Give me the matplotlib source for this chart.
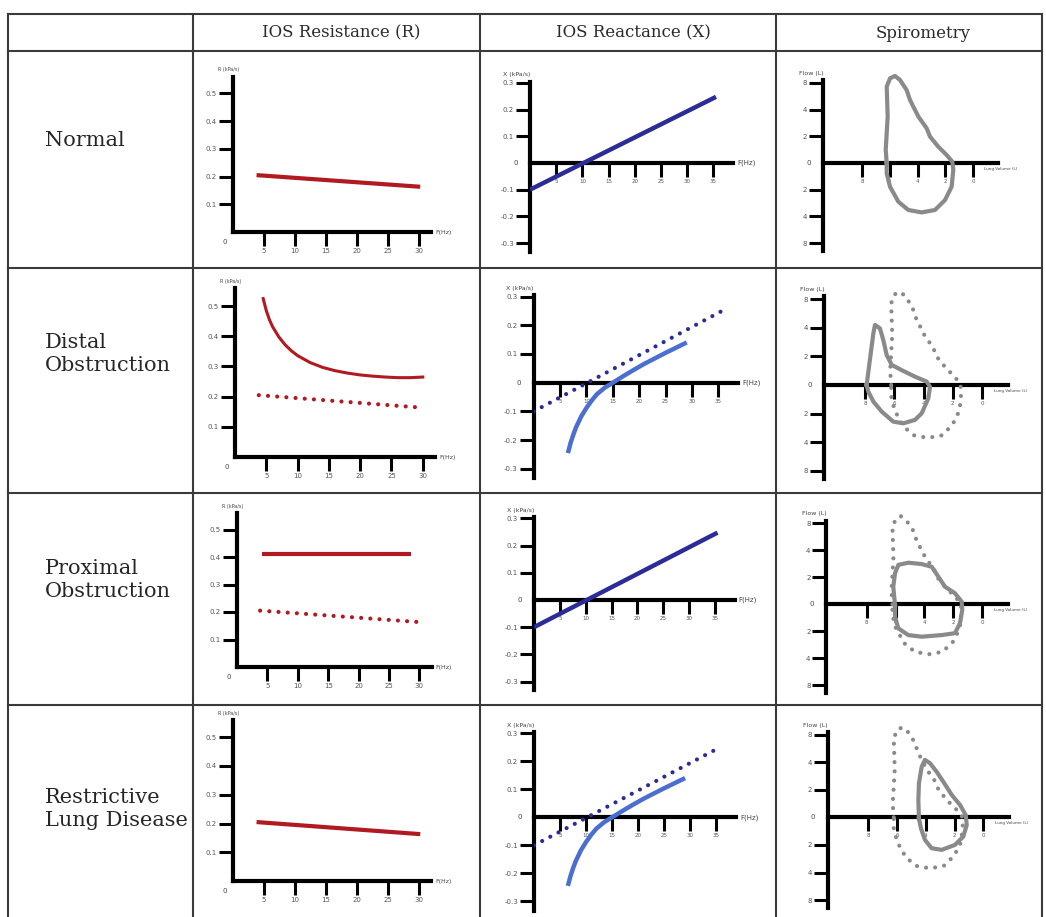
import matplotlib
matplotlib.use('Agg')
import matplotlib.pyplot as plt

W, H = 1046, 917

# ---- table text ----
col_titles = ['IOS Resistance (R)', 'IOS Reactance (X)', 'Spirometry']
row_labels = ['Normal', 'Distal\nObstruction', 'Proximal\nObstruction', 'Restrictive\nLung Disease']

# ---- resistance: frequency (Hz) vs R (kPa/s) ----
r_norm_f = [3.8, 30.2]
r_norm = [0.205, 0.163]
r_dist_f = [4.5, 5, 5.5, 6, 7, 8, 9, 10, 12, 14, 16, 18, 20, 22, 24, 26, 28, 30]
r_dist = [0.525, 0.485, 0.455, 0.432, 0.398, 0.372, 0.352, 0.336, 0.313, 0.297,
          0.286, 0.278, 0.272, 0.268, 0.265, 0.263, 0.263, 0.265]
r_prox_f = [4.1, 28.6]
r_prox = [0.41, 0.41]
r_ticks = [5, 10, 15, 20, 25, 30]
r_yticks = [0.1, 0.2, 0.3, 0.4, 0.5]

# ---- reactance: frequency (Hz) vs X (kPa/s) ----
x_norm_f = [0, 35.5]
x_norm = [-0.1, 0.248]
x_abn_f = [6.5, 7, 7.5, 8, 9, 10, 11, 12, 13.5, 15, 17, 19, 21, 25, 29]
x_abn = [-0.245, -0.21, -0.182, -0.157, -0.118, -0.088, -0.062, -0.04, -0.017,
         0.0, 0.023, 0.045, 0.066, 0.104, 0.14]
x_ticks = [5, 10, 15, 20, 25, 30, 35]
x_yticks = [-0.3, -0.2, -0.1, 0.1, 0.2, 0.3]

# ---- spirometry loops: lung volume (L) vs flow (tick positions) ----
s_yticks = [-3, -2, -1, 1, 2, 3]
s_ylabels = ['8', '4', '2', '2', '4', '8']
s_xticks = [8, 6, 4, 2, 0]
loop_norm_v = [6.22, 6.29, 6.15, 6.22, 5.98, 5.62, 5.26, 4.78, 4.54, 3.94, 3.34, 3.10, 2.50,
               1.90, 1.49, 1.42, 1.54, 2.02, 2.74, 3.70, 4.66, 5.38, 5.98, 6.22, 6.22]
loop_norm_q = [0, 0.49, 1.74, 2.86, 3.17, 3.26, 3.11, 2.73, 2.36, 1.74, 1.30, 0.99, 0.61,
               0.30, 0.05, -0.26, -0.89, -1.39, -1.76, -1.85, -1.76, -1.45, -0.89, -0.39, 0]
loop_dist_v = [7.9, 7.74, 7.56, 7.44, 7.33, 6.99, 6.76, 6.53, 6.18, 5.50, 4.59, 3.79, 3.56,
               3.68, 4.13, 4.59, 5.39, 6.08, 6.87, 7.44, 7.79, 7.9]
loop_dist_q = [0, 0.64, 1.34, 1.81, 2.10, 1.98, 1.57, 1.05, 0.70, 0.52, 0.29, 0.12, -0.06,
               -0.47, -0.99, -1.22, -1.34, -1.28, -0.93, -0.58, -0.23, 0]
loop_prox_v = [6.04, 6.16, 6.04, 5.81, 5.12, 4.19, 3.49, 3.03, 2.57, 1.88, 1.41, 1.37, 1.53,
               1.88, 2.80, 4.19, 5.12, 5.81, 6.04, 6.04]
loop_prox_q = [-0.03, 0.65, 1.15, 1.46, 1.54, 1.49, 1.39, 1.02, 0.65, 0.41, 0.10, -0.21, -0.70,
               -1.07, -1.14, -1.20, -1.14, -0.89, -0.46, -0.03]
loop_rest_v = [4.47, 4.51, 4.47, 4.28, 4.05, 3.70, 3.24, 2.78, 2.19, 1.62, 1.22, 1.15, 1.39,
               1.97, 2.89, 3.59, 4.05, 4.33, 4.47]
loop_rest_q = [-0.04, 0.63, 1.23, 1.83, 2.08, 1.96, 1.65, 1.29, 0.81, 0.45, 0.08, -0.28, -0.70,
               -1.00, -1.18, -1.12, -0.82, -0.40, -0.04]

RED = '#b01a20'
NAVY = '#2b2c96'
LBLUE = '#4a6fd0'
GREY = '#8a8a8a'
DOTS = (0, (0.01, 2.2))

fig = plt.figure(figsize=(W / 100, H / 100), dpi=100)

# background axes in pixel coords for the table
bg = fig.add_axes([0, 0, 1, 1])
bg.set_xlim(0, W)
bg.set_ylim(H, 0)
bg.axis('off')
for x in [8, 193, 480, 776, 1042]:
    bg.plot([x, x], [14, H], color='#3a3a3a', lw=1.5, clip_on=False)
for y in [14, 51, 268, 493, 705]:
    bg.plot([8, 1042], [y, y], color='#3a3a3a', lw=1.5, clip_on=False)
for t, cx in zip(col_titles, [341, 633, 923]):
    bg.text(cx, 33, t, ha='center', va='center', fontsize=12, family='DejaVu Serif', color='#2a2a2a')
for t, cy in zip(row_labels, [140, 354, 580, 809]):
    bg.text(45, cy, t, ha='left', va='center', fontsize=15, family='DejaVu Serif',
            color='#262626', linespacing=1.3)


def panel(ox, oy, sx, sy, xlim, ylim):
    xa = ox + sx * xlim[0]
    xb = ox + sx * xlim[1]
    ya = oy - sy * ylim[0]
    yb = oy - sy * ylim[1]
    ax = fig.add_axes([min(xa, xb) / W, 1 - ya / H, abs(xb - xa) / W, (ya - yb) / H])
    ax.set_xlim(xlim)
    ax.set_ylim(ylim)
    ax.patch.set_visible(False)
    for s in ['top', 'right']:
        ax.spines[s].set_visible(False)
    ax.spines['bottom'].set_position(('data', 0))
    for s in ['left', 'bottom']:
        ax.spines[s].set_linewidth(3)
    ax.tick_params(direction='out', length=10, width=2.2, labelsize=5,
                   labelcolor='#555555', pad=1.5)
    return ax


def small(ax, txt, xy, off, ha, va, size=4.5):
    ax.annotate(txt, xy, xytext=off, textcoords='offset points', ha=ha, va=va,
                fontsize=size, color='#444444', annotation_clip=False)


# ---------- resistance column ----------
r_geo = [(233, 232, 6.2, 277.5), (235, 457, 6.26, 301.7), (237, 667, 6.08, 275), (233, 881, 6.2, 287.5)]
for i, g in enumerate(r_geo):
    ax = panel(*g, (0, 32), (0, 0.56))
    ax.set_xticks(r_ticks)
    ax.set_yticks(r_yticks)
    ax.set_yticklabels([str(v) for v in r_yticks])
    small(ax, '0', (0, 0), (-4, -5), 'right', 'top', 5)
    small(ax, 'R (kPa/s)', (0, 0.56), (-3, 3), 'center', 'bottom', 3.5)
    small(ax, 'F(Hz)', (32, 0), (3, 0), 'left', 'center', 4.5)
    if i == 0 or i == 3:
        ax.plot(r_norm_f, r_norm, color=RED, lw=3, solid_capstyle='butt', zorder=3)
    elif i == 1:
        ax.plot(r_dist_f, r_dist, color=RED, lw=2.2, zorder=3)
        ax.plot(r_norm_f, r_norm, color=RED, lw=3, ls=DOTS, dash_capstyle='round', zorder=3)
    else:
        ax.plot(r_prox_f, r_prox, color=RED, lw=3, solid_capstyle='butt', zorder=3)
        ax.plot(r_norm_f, r_norm, color=RED, lw=3, ls=DOTS, dash_capstyle='round', zorder=3)

# ---------- reactance column ----------
x_geo = [(530, 163, 5.24, 266.7), (533.6, 382.7, 5.28, 287.3), (534, 600, 5.17, 271.7), (534, 817.3, 5.21, 280)]
for i, g in enumerate(x_geo):
    ax = panel(*g, (0, 38.8), (-0.333, 0.305))
    ax.set_xticks(x_ticks)
    ax.set_yticks(x_yticks)
    ax.set_yticklabels([str(v) for v in x_yticks])
    ax.tick_params(axis='x', labelsize=4)
    small(ax, '0', (0, 0), (-9, 0), 'right', 'center', 5)
    small(ax, 'X (kPa/s)', (0, 0.305), (0, 3), 'right', 'bottom', 4.5)
    small(ax, 'F(Hz)', (38.8, 0), (3, 0), 'left', 'center', 5)
    if i in (0, 2):
        ax.plot(x_norm_f, x_norm, color=NAVY, lw=3.2, solid_capstyle='butt', zorder=3)
    else:
        ax.plot(x_norm_f, x_norm, color=NAVY, lw=3, ls=DOTS, dash_capstyle='round', zorder=3)
        ax.plot(x_abn_f, x_abn, color=LBLUE, lw=3.2, solid_capstyle='butt', zorder=3)

# ---------- spirometry column ----------
s_geo = [(973, 163, -13.875, 26.7), (982, 385, -14.6, 28.6), (982, 604.3, -14.4, 27), (983.3, 817.3, -14.4, 27.6)]
solid_loops = [(loop_norm_v, loop_norm_q), (loop_dist_v, loop_dist_q),
               (loop_prox_v, loop_prox_q), (loop_rest_v, loop_rest_q)]
for i, g in enumerate(s_geo):
    ax = panel(*g, (10.8, -1.8), (-3.3, 3.1))
    ax.set_xticks(s_xticks)
    ax.set_xticklabels([str(v) for v in s_xticks])
    ax.set_yticks(s_yticks)
    ax.set_yticklabels(s_ylabels)
    ax.tick_params(axis='x', labelsize=4)
    small(ax, '0', (10.8, 0), (-9, 0), 'right', 'center', 5)
    small(ax, 'Flow (L)', (10.8, 3.1), (0, 3), 'right', 'bottom', 4.5)
    small(ax, 'Lung Volume (L)', (-1.8, 0), (-10, -3), 'left', 'top', 3)
    if i > 0:
        ax.plot(loop_norm_v, loop_norm_q, color=GREY, lw=3, ls=DOTS, dash_capstyle='round',
                zorder=3, clip_on=False)
    v, q = solid_loops[i]
    ax.plot(v, q, color=GREY, lw=3, solid_joinstyle='round', zorder=4, clip_on=False)

fig.savefig('out.png', dpi=100)
